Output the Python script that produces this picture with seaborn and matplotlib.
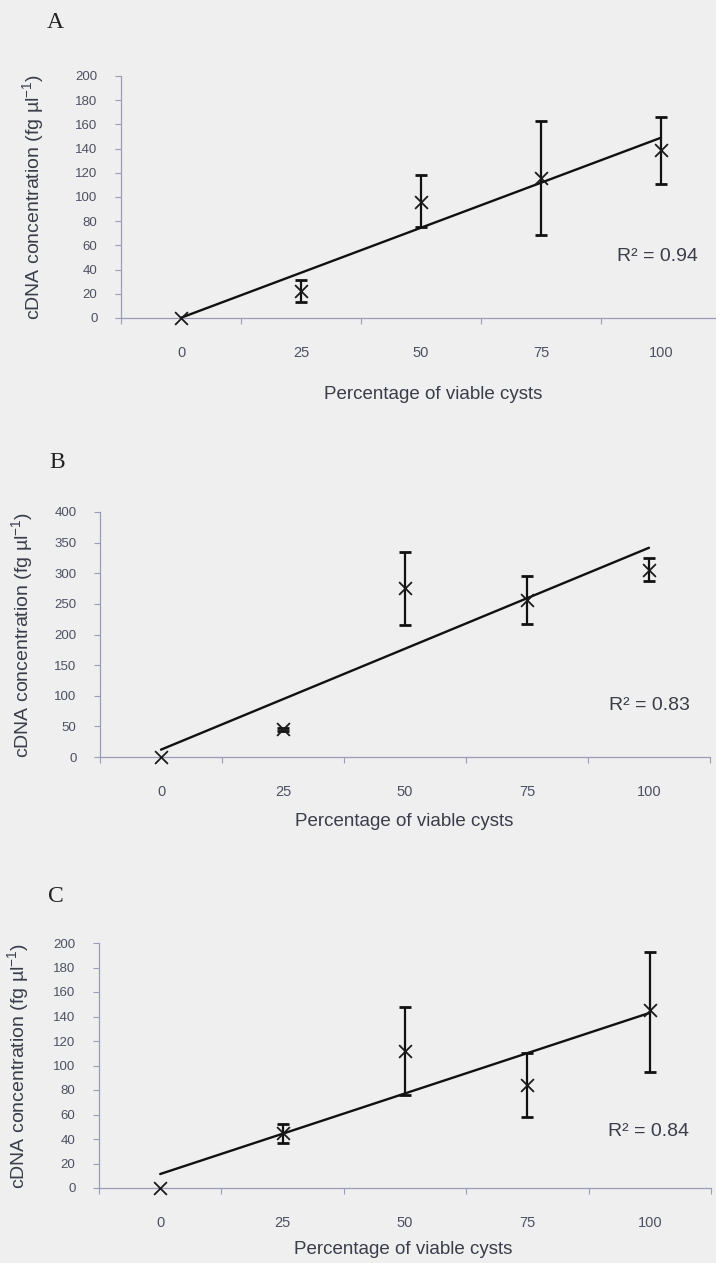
import numpy as np
import pandas as pd
import matplotlib
matplotlib.use("Agg")
import matplotlib.pyplot as plt
from matplotlib.ticker import FixedLocator, MultipleLocator
import seaborn as sns

# ---------------- data ----------------
categories = ["0", "25", "50", "75", "100"]

a_mean = [0, 22, 96, 116, 139]
a_low = [0, 13, 75, 69, 111]
a_high = [0, 31, 118, 163, 166]

b_mean = [0, 45, 276, 257, 306]
b_low = [0, 42, 216, 217, 288]
b_high = [0, 48, 335, 296, 325]

c_mean = [0, 45, 112, 84, 145]
c_low = [0, 37, 76, 58, 95]
c_high = [0, 52, 148, 110, 193]

panel_letters = ["A", "B", "C"]
r2_labels = ["R\u00b2 = 0.94", "R\u00b2 = 0.83", "R\u00b2 = 0.84"]
y_maxes = [200, 400, 200]
y_steps = [20, 50, 20]

# ---------------- style ----------------
sns.set_theme(style="white")
BG = "#efefef"
SPINE = "#9b9db8"
TICKC = "#4c5062"
TEXTC = "#3a3d4a"
plt.rcParams["font.family"] = ["Liberation Sans", "DejaVu Sans"]
plt.rcParams["mathtext.fontset"] = "custom"
plt.rcParams["mathtext.rm"] = "Liberation Sans"
plt.rcParams["mathtext.it"] = "Liberation Sans:italic"
plt.rcParams["mathtext.bf"] = "Liberation Sans:bold"

W, H = 716, 1263
fig = plt.figure(figsize=(W / 100, H / 100), dpi=100, facecolor=BG)

# pixel layout: (left, right, y_top_px, y_zero_px)
layouts = [
    (121, 721, 76, 318),
    (100, 710, 512, 757),
    (99, 711, 943, 1188),
]
ylabel_x_px = [33, 22, 18]
xlabel_y_px = [395, 822, 1250]
xlabel_x_px = [433, 404, 403]
letter_pos = [(55, 22), (57, 462), (56, 897)]
r2_pos_px = [(657, 257), (649, 705), (648, 1132)]

series = [(a_mean, a_low, a_high), (b_mean, b_low, b_high), (c_mean, c_low, c_high)]

for i, (mean, low, high) in enumerate(series):
    l, r, yt, y0 = layouts[i]
    ax = fig.add_axes([l / W, (H - y0) / H, (r - l) / W, (y0 - yt) / H])
    ax.set_facecolor(BG)
    ax.patch.set_alpha(0)

    df = pd.DataFrame({
        "pos": np.arange(len(categories)),
        "val": mean,
        "low": low,
        "high": high,
    })

    # error bars
    yerr = np.vstack([df["val"] - df["low"], df["high"] - df["val"]])
    has_err = (df["high"] - df["low"]) > 0
    ax.errorbar(df["pos"][has_err], df["val"][has_err],
                yerr=yerr[:, has_err.values], fmt="none",
                ecolor="#111111", elinewidth=1.6, capsize=4.5, capthick=2.0,
                zorder=3, clip_on=False)

    # linear trendline (computed by seaborn)
    sns.regplot(data=df, x="pos", y="val", ax=ax, scatter=False, ci=None,
                truncate=True, color="#111111", line_kws={"lw": 1.7, "zorder": 4})

    # markers
    sns.scatterplot(data=df, x="pos", y="val", ax=ax, marker="x", s=85,
                    color="#1a1a1a", linewidth=1.3, zorder=5, legend=False,
                    clip_on=False)

    ax.set_xlim(-0.5, len(categories) - 0.5)
    ax.set_ylim(0, y_maxes[i])
    ax.yaxis.set_major_locator(MultipleLocator(y_steps[i]))

    # categories labelled at centres, tick marks at boundaries
    ax.set_xticks(np.arange(len(categories)))
    ax.set_xticklabels(categories)
    ax.xaxis.set_minor_locator(FixedLocator(np.arange(len(categories) + 1) - 0.5))
    ax.tick_params(axis="x", which="major", length=0, pad=20, labelsize=10.5,
                   labelcolor=TICKC)
    ax.tick_params(axis="x", which="minor", length=4, width=0.8, color=SPINE,
                   direction="out", bottom=True)
    ax.tick_params(axis="y", which="major", length=4, width=0.8, color=SPINE,
                   direction="out", pad=13, labelsize=9.5, labelcolor=TICKC, left=True)

    for s in ["top", "right"]:
        ax.spines[s].set_visible(False)
    for s in ["left", "bottom"]:
        ax.spines[s].set_color(SPINE)
        ax.spines[s].set_linewidth(0.9)

    ax.set_xlabel("Percentage of viable cysts", fontsize=13.5, color=TEXTC)
    ax.xaxis.set_label_coords((xlabel_x_px[i] - l) / (r - l),
                              -(xlabel_y_px[i] - y0) / (y0 - yt))
    ax.xaxis.label.set_va("center")
    ax.set_ylabel("cDNA concentration (fg \u00b5l$^{-1}$)", fontsize=14, color=TEXTC)
    ax.yaxis.set_label_coords((ylabel_x_px[i] - l) / (r - l), 0.5)
    ax.yaxis.label.set_va("center")

    rx, ry = r2_pos_px[i]
    ax.text((rx - l) / (r - l), (y0 - ry) / (y0 - yt), r2_labels[i],
            transform=ax.transAxes, ha="center", va="center",
            fontsize=14, color=TEXTC)

    lx, ly = letter_pos[i]
    fig.text(lx / W, 1 - ly / H, panel_letters[i], ha="center", va="center",
             fontsize=17, color="#222222",
             family=["Liberation Serif", "DejaVu Serif"])

fig.savefig("out.png", dpi=100, facecolor=BG)
